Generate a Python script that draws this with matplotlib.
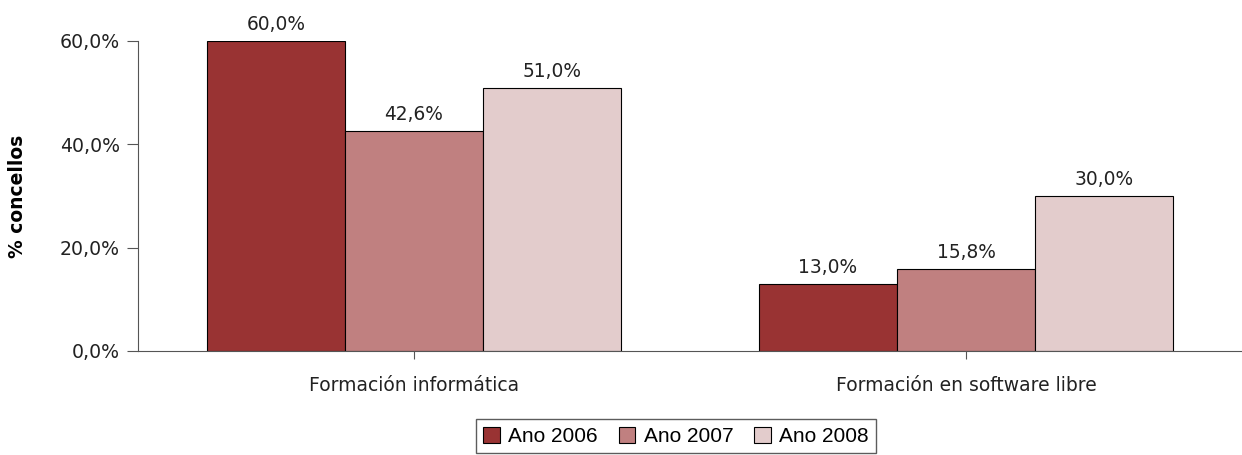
import numpy as np
import matplotlib.pyplot as plt

plt.rcParams['font.family'] = ['DejaVu Sans']

categorias = ["Formación informática", "Formación en software libre"]
anos = ["Ano 2006", "Ano 2007", "Ano 2008"]
valores_2006 = [60.0, 13.0]
valores_2007 = [42.6, 15.8]
valores_2008 = [51.0, 30.0]
cores = ["#993333", "#C08080", "#E3CCCC"]

series = [valores_2006, valores_2007, valores_2008]

fig = plt.figure(figsize=(12.42, 4.55), dpi=100)
ax = fig.add_axes([138/1242, 1-351/455, 1104/1242, 310/455])

x = np.arange(len(categorias))
ancho = 0.25
barras = []
for i, (vals, cor) in enumerate(zip(series, cores)):
    b = ax.bar(x + (i-1)*ancho, vals, ancho, color=cor, edgecolor="black",
               linewidth=0.8, label=anos[i])
    barras.append(b)
    for xi, v in zip(x + (i-1)*ancho, vals):
        ax.annotate(f"{v:.1f}%".replace(".", ","), (xi, v), xytext=(0, 5),
                    textcoords="offset points", ha="center", va="bottom",
                    fontsize=13.4, color="#222222", annotation_clip=False)

ax.set_xlim(-0.5, 1.5)
ax.set_ylim(0, 60)
ax.set_yticks([0, 20, 40, 60])
ax.set_yticklabels(["0,0%", "20,0%", "40,0%", "60,0%"], fontsize=13.6, color="#222222")
ax.set_xticks(x)
ax.set_xticklabels(categorias, fontsize=13.5, color="#222222")
ax.tick_params(axis="x", length=6, pad=12, color="#555555")
ax.tick_params(axis="y", length=8, pad=5, color="#555555")
ax.set_ylabel("% concellos", fontsize=13.5, fontweight="bold")
ax.yaxis.set_label_coords(-0.1005, 0.5)
for s in ["top", "right"]:
    ax.spines[s].set_visible(False)
for s in ["left", "bottom"]:
    ax.spines[s].set_color("#555555")

leg = fig.legend(handles=barras, labels=anos, loc="lower center", ncol=3,
                 bbox_to_anchor=(676/1242, 0.004), borderaxespad=0,
                 frameon=True, fancybox=False,
                 edgecolor="#333333", prop={"family": "Liberation Sans", "size": 15},
                 handlelength=0.8, handleheight=0.8, handletextpad=0.4,
                 columnspacing=1.0, borderpad=0.35)
leg.get_frame().set_linewidth(1.0)

fig.savefig("out.png", dpi=100)
